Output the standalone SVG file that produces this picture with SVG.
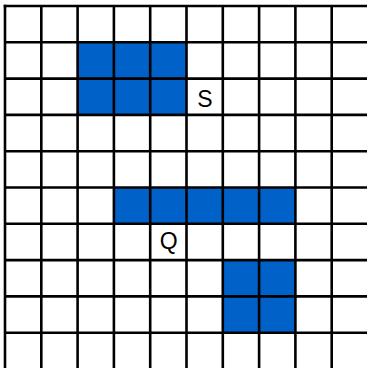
<svg xmlns="http://www.w3.org/2000/svg" width="367" height="368" viewBox="0 0 367 368">
<style>
.cell{fill:#0061c9}
.g line{stroke:#000;stroke-width:2.6}
.lbl{font-family:"Liberation Sans",Arial,sans-serif;font-size:23px;fill:#000;text-anchor:middle}
</style>
<rect width="367" height="368" fill="#fff"/>
<g id="blocks">
<rect class="cell" x="77.6" y="42.3" width="108.9" height="72.6"/>
<rect class="cell" x="113.9" y="187.5" width="181.5" height="36.3"/>
<rect class="cell" x="222.8" y="260.1" width="72.6" height="72.6"/>
</g>
<g id="grid" class="g">
<line x1="5" y1="4.7" x2="5" y2="368"/>
<line x1="41.3" y1="6" x2="41.3" y2="368"/>
<line x1="77.6" y1="6" x2="77.6" y2="368"/>
<line x1="113.9" y1="6" x2="113.9" y2="368"/>
<line x1="150.2" y1="6" x2="150.2" y2="368"/>
<line x1="186.5" y1="6" x2="186.5" y2="368"/>
<line x1="222.8" y1="6" x2="222.8" y2="368"/>
<line x1="259.1" y1="6" x2="259.1" y2="368"/>
<line x1="295.4" y1="6" x2="295.4" y2="368"/>
<line x1="331.7" y1="6" x2="331.7" y2="368"/>
<line x1="3.7" y1="6" x2="367" y2="6"/>
<line x1="5" y1="42.3" x2="367" y2="42.3"/>
<line x1="5" y1="78.6" x2="367" y2="78.6"/>
<line x1="5" y1="114.9" x2="367" y2="114.9"/>
<line x1="5" y1="151.2" x2="367" y2="151.2"/>
<line x1="5" y1="187.5" x2="367" y2="187.5"/>
<line x1="5" y1="223.8" x2="367" y2="223.8"/>
<line x1="5" y1="260.1" x2="367" y2="260.1"/>
<line x1="5" y1="296.4" x2="367" y2="296.4"/>
<line x1="5" y1="332.7" x2="367" y2="332.7"/>
</g>
<g id="labels">
<text id="S" class="lbl" x="204.8" y="106.5">S</text>
<text id="Q" class="lbl" x="168.8" y="249">Q</text>
</g>
</svg>
